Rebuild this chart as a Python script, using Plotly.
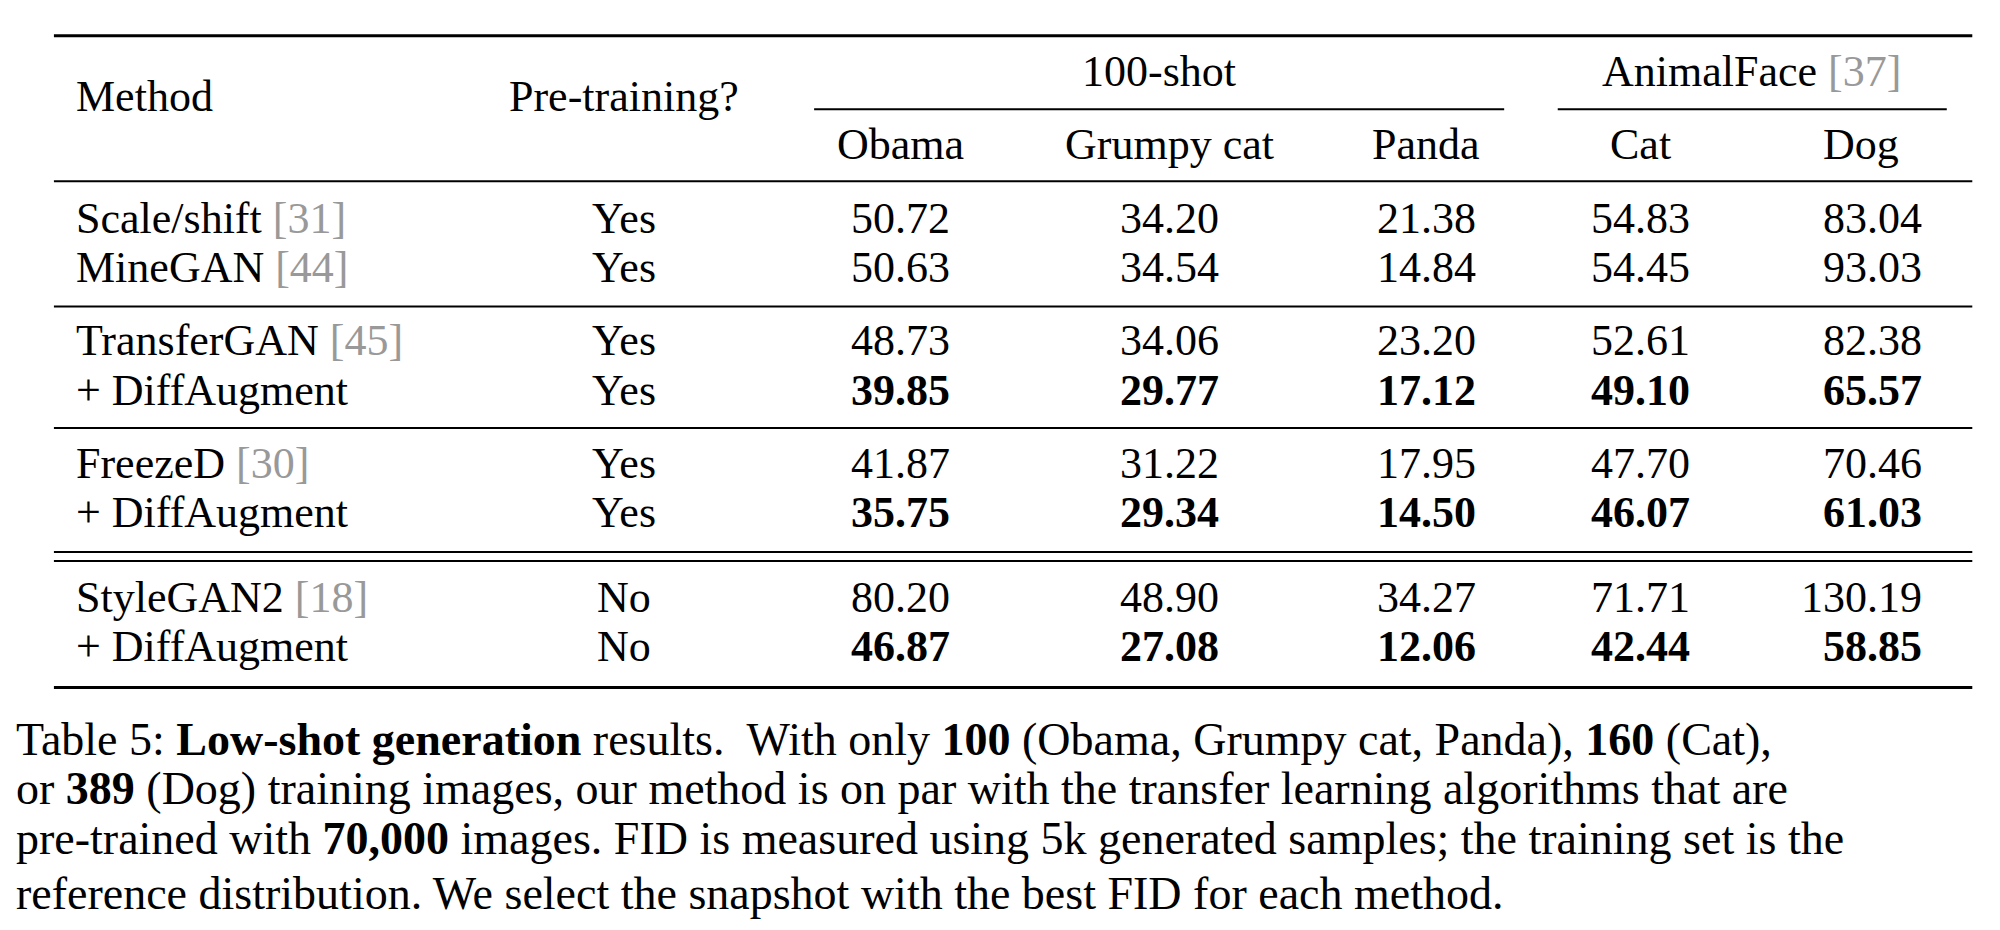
import plotly.graph_objects as go

methods = ["Scale/shift", "MineGAN", "TransferGAN", "+ DiffAugment", "FreezeD", "+ DiffAugment",
           "StyleGAN2", "+ DiffAugment"]
refs = ["31", "44", "45", "", "30", "", "18", ""]
pretraining = ["Yes", "Yes", "Yes", "Yes", "Yes", "Yes", "No", "No"]
obama = ["50.72", "50.63", "48.73", "39.85", "41.87", "35.75", "80.20", "46.87"]
grumpy = ["34.20", "34.54", "34.06", "29.77", "31.22", "29.34", "48.90", "27.08"]
panda = ["21.38", "14.84", "23.20", "17.12", "17.95", "14.50", "34.27", "12.06"]
cat = ["54.83", "54.45", "52.61", "49.10", "47.70", "46.07", "71.71", "42.44"]
dog = ["83.04", "93.03", "82.38", "65.57", "70.46", "61.03", "130.19", "58.85"]
bold_rows = [False, False, False, True, False, True, False, True]
subheaders = ["Obama", "Grumpy cat", "Panda", "Cat", "Dog"]
caption = [
    "Table 5: <b>Low-shot generation</b> results.  With only <b>100</b> (Obama, Grumpy cat, Panda), <b>160</b> (Cat),",
    "or <b>389</b> (Dog) training images, our method is on par with the transfer learning algorithms that are",
    "pre-trained with <b>70,000</b> images. FID is measured using 5k generated samples; the training set is the",
    "reference distribution. We select the snapshot with the best FID for each method.",
]

FONT = "Liberation Serif"
SIZE = 44
GREY = "#999999"
row_y = [166, 205, 263, 302, 360, 399, 466, 505]
col_x = [700, 911, 1112, 1280]

fig = go.Figure()

def txt(x, y, s, anchor="center", size=SIZE):
    fig.add_annotation(x=x, y=y, text=s, showarrow=False, xanchor=anchor, yanchor="middle",
                       font=dict(family=FONT, size=size, color="black"))

def hline(y, x0=40, x1=1540, w=2):
    fig.add_shape(type="line", x0=x0, x1=x1, y0=y, y1=y, line=dict(color="black", width=w))

# header
txt(52, 70, "Method", "left")
txt(483, 70, "Pre-training?")
txt(902, 50, "100-shot")
txt(1367, 50, f"AnimalFace <span style='color:{GREY}'>[37]</span>")
for x, s in zip(col_x + [1453], subheaders):
    txt(x, 108, s)

hline(22, 36, 1540, 3)
hline(80, 632, 1173, 2)
hline(80, 1215, 1520, 2)
hline(137, 36)
hline(236, 36)
hline(332, 36)
hline(430, 36)
hline(437, 36)
hline(537, 36, 1540, 3)

for i, y in enumerate(row_y):
    m = methods[i]
    if refs[i]:
        m += f" <span style='color:{GREY}'>[{refs[i]}]</span>"
    txt(52, y, m, "left")
    txt(483, y, pretraining[i])
    for x, col in zip(col_x, [obama, grumpy, panda, cat]):
        v = col[i]
        txt(x, y, f"<b>{v}</b>" if bold_rows[i] else v)
    v = dog[i]
    txt(1502, y, f"<b>{v}</b>" if bold_rows[i] else v, "right")

for y, line in zip([578, 617, 656, 700], caption):
    txt(5, y, line, "left", 46)

fig.update_layout(
    width=2000, height=930,
    margin=dict(l=0, r=0, t=0, b=0),
    paper_bgcolor="white", plot_bgcolor="white",
    xaxis=dict(range=[0, 1568], visible=False, fixedrange=True),
    yaxis=dict(range=[735, 0], visible=False, fixedrange=True),
    showlegend=False,
)
fig.write_html("out.html")
